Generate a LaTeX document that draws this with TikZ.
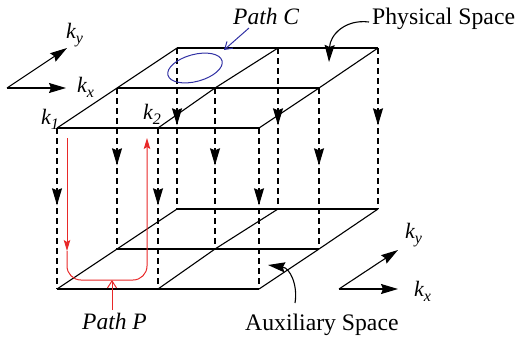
\documentclass[tikz,border=0pt]{standalone}
\usepackage{fontspec}
\setmainfont{Liberation Serif}
\newfontfamily\timesfont{Liberation Serif}
\usetikzlibrary{arrows.meta,decorations.markings,shapes.geometric}
\definecolor{pathred}{RGB}{232,40,40}
\definecolor{pathblue}{RGB}{50,50,165}
\newcommand{\ksub}[2]{{\timesfont\fontsize{22}{24}\selectfont\itshape #1\raisebox{-5pt}{\fontsize{16}{16}\selectfont #2}}}
\tikzset{
  grid/.style={line width=1.1pt, black},
  proj/.style={line width=1.1pt, black, dash pattern=on 6pt off 4pt,
    postaction={decorate},
    decoration={markings, mark=at position 0.48 with {\arrow{Stealth[length=17pt,width=10pt,inset=2pt]}}}},
  axis/.style={line width=1.1pt, -{Stealth[length=17pt,width=10pt,inset=2pt]}},
  lbl/.style={inner sep=0pt, anchor=base west},
  bigtext/.style={lbl, font=\timesfont\fontsize{23.7}{28}\selectfont},
  pathtext/.style={lbl, font=\timesfont\fontsize{23.5}{27}\selectfont\itshape},
  redline/.style={pathred, line width=1pt},
  redtip/.style={-{Stealth[length=11pt,width=6.5pt,inset=2pt]}},
  barb/.style={-{Straight Barb[length=7pt,width=9pt]}, line width=1pt},
  pointer/.style={line width=1.1pt, -{Stealth[length=17pt,width=10pt,inset=2pt]}}
}
\begin{document}
\begin{tikzpicture}[x=1pt,y=-1pt]
\useasboundingbox (0,0) rectangle (519,341);
% top grid vertices (row: f front, m middle, b back; column 1..3)
\coordinate (tf1) at (57,128);  \coordinate (tf2) at (158,128); \coordinate (tf3) at (259,128);
\coordinate (tm1) at (117,88);  \coordinate (tm2) at (215,88);  \coordinate (tm3) at (319,88);
\coordinate (tb1) at (177,48);  \coordinate (tb2) at (278,48);  \coordinate (tb3) at (378,48);
% bottom grid vertices
\coordinate (bf1) at (57,289);  \coordinate (bf2) at (158,289); \coordinate (bf3) at (259,289);
\coordinate (bm1) at (117,249); \coordinate (bm2) at (215,249); \coordinate (bm3) at (319,249);
\coordinate (bb1) at (177,209); \coordinate (bb2) at (278,209); \coordinate (bb3) at (378,209);
% projection lines
\foreach \r in {f,m,b}{\foreach \c in {1,2,3}{\draw[proj] (t\r\c) -- (b\r\c);}}
% grids
\foreach \g in {t,b}{
  \draw[grid] (\g f1) -- (\g f3);
  \draw[grid] (\g m1) -- (\g m3);
  \draw[grid] (\g b1) -- (\g b3);
  \draw[grid] (\g f1) -- (\g m1) -- (\g b1);
  \draw[grid] (\g f2) -- (\g m2) -- (\g b2);
  \draw[grid] (\g f3) -- (\g m3) -- (\g b3);
}
% axes top-left
\coordinate (o1) at (7,88); \coordinate (x1) at (66,88); \coordinate (y1) at (67,48);
\draw[axis] (o1) -- (x1);
\draw[axis] (o1) -- (y1);
\node[lbl] (ky1) at (66,38) {\ksub{k}{y}};
\node[lbl] (kx1) at (77,92) {\ksub{k}{x}};
% axes bottom-right
\coordinate (o2) at (339,289); \coordinate (x2) at (398,289); \coordinate (y2) at (398,250);
\draw[axis] (o2) -- (x2);
\draw[axis] (o2) -- (y2);
\node[lbl] (ky2) at (405,238) {\ksub{k}{y}};
\node[lbl] (kx2) at (414,296) {\ksub{k}{x}};
% k1 k2
\node[lbl] (k1) at (41,124) {\ksub{k}{1}};
\node[lbl] (k2) at (143,119) {\ksub{k}{2}};
% Path C
\node[ellipse, draw=pathblue, line width=1pt, minimum width=56pt, minimum height=27pt, inner sep=0pt, rotate=15] (ell) at (195,68) {};
\node[pathtext] (pc) at (233,24) {Path C};
\coordinate (pcs) at (249,28); \coordinate (pce) at (224,50);
\draw[barb, pathblue] (pcs) -- (pce);
% Physical space
\node[bigtext] (ps) at (372,24) {Physical Space};
\coordinate (pss) at (369,22); \coordinate (pse) at (329,62);
\draw[pointer] (pss) .. controls (345,19) and (330,35) .. (pse);
% Auxiliary space
\node[bigtext] (as) at (245,330) {Auxiliary Space};
\coordinate (ass) at (295,303); \coordinate (ase) at (268,265);
\draw[pointer] (ass) .. controls (298,285) and (290,268) .. (ase);
% Path P
\coordinate (r1) at (67,138); \coordinate (rm) at (67,251); \coordinate (rl) at (67,280);
\coordinate (rr) at (147,280); \coordinate (r2) at (147,138);
\draw[redline, redtip] (r1) -- (rm);
\draw[redline, redtip, rounded corners=14pt] (rm) -- (rl) -- (rr) -- (r2);
\node[pathtext] (pp) at (82,329) {Path P};
\coordinate (pps) at (112,310); \coordinate (ppe) at (112,280);
\draw[barb, pathred] (pps) -- (ppe);
\end{tikzpicture}
\end{document}
